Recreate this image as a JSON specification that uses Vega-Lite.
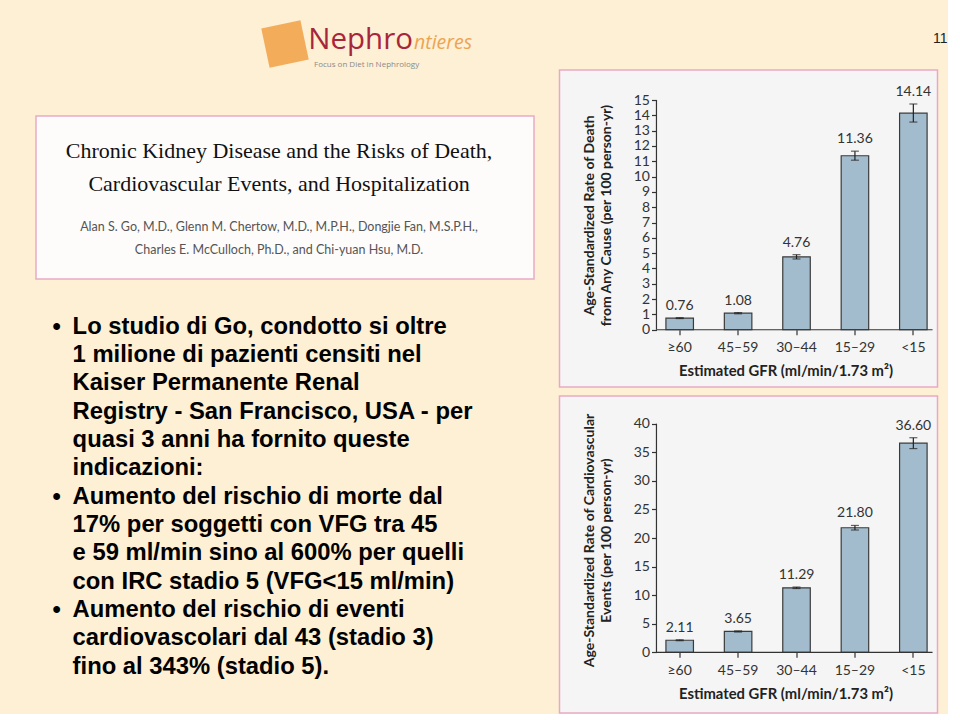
{
  "$schema": "https://vega.github.io/schema/vega-lite/v6.json",
  "background": "#fdf0d5",
  "padding": {"left": 35, "top": 0, "right": 0, "bottom": 0},
  "config": {"view": {"stroke": null}, "axis": {"labelOverlap": false, "labelBound": false, "labelFlush": false}},
  "spacing": 23.5,
  "hconcat": [
    {
      "spacing": 27,
      "vconcat": [
        {
          "width": 498,
          "height": 88,
          "data": {"values": [
            {"part": "icon", "t": ""},
            {"part": "a", "t": "Nephro"},
            {"part": "b", "t": "ntieres"},
            {"part": "c", "t": "Focus on Diet in Nephrology"}
          ]},
          "layer": [
            {"transform": [{"filter": "datum.part === 'icon'"}],
             "mark": {"type": "point", "shape": "square", "size": 1600, "filled": true, "color": "#f2a44c", "opacity": 0.9, "angle": -12},
             "encoding": {}},
            {"transform": [{"filter": "datum.part === 'a'"}],
             "mark": {"type": "text", "align": "right", "baseline": "alphabetic", "dx": 128, "dy": 5, "font": "Open Sans", "fontSize": 29.5, "color": "#a8263b"},
             "encoding": {"text": {"field": "t"}}},
            {"transform": [{"filter": "datum.part === 'b'"}],
             "mark": {"type": "text", "align": "left", "baseline": "alphabetic", "dx": 129, "dy": 5, "font": "Open Sans", "fontSize": 19.5, "fontStyle": "italic", "color": "#eda452"},
             "encoding": {"text": {"field": "t"}}},
            {"transform": [{"filter": "datum.part === 'c'"}],
             "mark": {"type": "text", "align": "left", "baseline": "alphabetic", "dx": 29, "dy": 23, "font": "Open Sans", "fontSize": 8, "color": "#8a8a8a"},
             "encoding": {"text": {"field": "t"}}}
          ]
        },
        {
          "width": 498,
          "height": 163,
          "view": {"fill": "#fdfcfb", "stroke": "#e9a9c5", "strokeWidth": 1.5},
          "data": {"values": [
            {"kind": "title", "t": ["Chronic Kidney Disease and the Risks of Death,", "Cardiovascular Events, and Hospitalization"]},
            {"kind": "author", "t": ["Alan S. Go, M.D., Glenn M. Chertow, M.D., M.P.H., Dongjie Fan, M.S.P.H.,", "Charles E. McCulloch, Ph.D., and Chi-yuan Hsu, M.D."]}
          ]},
          "encoding": {
            "x": {"datum": "c", "type": "ordinal", "axis": null, "scale": {"type": "point", "domain": ["c"], "align": 0.488}},
            "y": {"field": "kind", "type": "ordinal", "axis": null, "scale": {"type": "point", "domain": ["title", "author"], "padding": 0.616, "align": 0.467}}
          },
          "layer": [
            {"transform": [{"filter": "datum.kind === 'title'"}],
             "mark": {"type": "text", "baseline": "alphabetic", "font": "Liberation Serif", "fontSize": 22, "lineHeight": 32.5, "color": "#111111"},
             "encoding": {"text": {"field": "t"}}},
            {"transform": [{"filter": "datum.kind === 'author'"}],
             "mark": {"type": "text", "baseline": "alphabetic", "font": "Lato", "fontSize": 12.5, "lineHeight": 23.3, "color": "#555555"},
             "encoding": {"text": {"field": "t"}}}
          ]
        },
        {
          "width": 498,
          "height": 397,
          "data": {"values": [
            {"line": 1, "b": true, "bul": "•", "t": "Lo studio di Go, condotto si oltre"},
            {"line": 2, "b": false, "bul": "", "t": "1 milione di pazienti censiti nel"},
            {"line": 3, "b": false, "bul": "", "t": "Kaiser Permanente Renal"},
            {"line": 4, "b": false, "bul": "", "t": "Registry - San Francisco, USA - per"},
            {"line": 5, "b": false, "bul": "", "t": "quasi 3 anni ha fornito queste"},
            {"line": 6, "b": false, "bul": "", "t": "indicazioni:"},
            {"line": 7, "b": true, "bul": "•", "t": "Aumento del rischio di morte dal"},
            {"line": 8, "b": false, "bul": "", "t": "17% per soggetti con VFG tra 45"},
            {"line": 9, "b": false, "bul": "", "t": "e 59 ml/min sino al 600% per quelli"},
            {"line": 10, "b": false, "bul": "", "t": "con IRC stadio 5 (VFG<15 ml/min)"},
            {"line": 11, "b": true, "bul": "•", "t": "Aumento del rischio di eventi"},
            {"line": 12, "b": false, "bul": "", "t": "cardiovascolari dal 43 (stadio 3)"},
            {"line": 13, "b": false, "bul": "", "t": "fino al 343% (stadio 5)."}
          ]},
          "encoding": {
            "y": {"field": "line", "type": "ordinal", "axis": null,
                  "scale": {"type": "point", "domain": [1,2,3,4,5,6,7,8,9,10,11,12,13], "padding": 1, "align": 0.468}}
          },
          "layer": [
            {"transform": [{"filter": "datum.b"}],
             "mark": {"type": "text", "align": "left", "baseline": "alphabetic", "font": "Liberation Sans", "fontSize": 23.8, "fontWeight": "bold", "color": "#000000"},
             "encoding": {
               "x": {"datum": "bullet", "type": "ordinal", "axis": null, "scale": {"type": "point", "domain": ["bullet"], "align": 0.0331}},
               "text": {"field": "bul"}
             }},
            {"mark": {"type": "text", "align": "left", "baseline": "alphabetic", "font": "Liberation Sans", "fontSize": 23.8, "fontWeight": "bold", "color": "#000000"},
             "encoding": {
               "x": {"datum": "text", "type": "ordinal", "axis": null, "scale": {"type": "point", "domain": ["text"], "align": 0.0735}},
               "text": {"field": "t"}
             }}
          ],
          "resolve": {"scale": {"x": "independent"}}
        }
      ]
    },
    {
      "spacing": 7,
      "vconcat": [
        {
          "width": 378,
          "height": 62,
          "data": {"values": [{"t": "11"}]},
          "mark": {"type": "text", "align": "right", "baseline": "alphabetic", "dx": 199, "dy": 12, "font": "Liberation Sans", "fontSize": 14, "color": "#222222"},
          "encoding": {"text": {"field": "t"}}
        },
        {
          "width": 378,
          "height": 317,
          "view": {"fill": "#f5f5f5", "stroke": "#e9a9c5", "strokeWidth": 1.5},
          "data": {"values": [
            {"gfr": "≥60", "rate": 0.76, "lo": 0.73, "hi": 0.79},
            {"gfr": "45–59", "rate": 1.08, "lo": 1.04, "hi": 1.12},
            {"gfr": "30–44", "rate": 4.76, "lo": 4.62, "hi": 4.90},
            {"gfr": "15–29", "rate": 11.36, "lo": 11.07, "hi": 11.66},
            {"gfr": "<15", "rate": 14.14, "lo": 13.56, "hi": 14.74}
          ]},
          "encoding": {
            "x": {"field": "gfr", "type": "nominal",
                  "scale": {"domain": ["≥60", "45–59", "30–44", "15–29", "<15"], "paddingInner": 0.529, "paddingOuter": 1, "align": 0.911},
                  "axis": {"orient": "bottom", "offset": -57.3, "domain": false, "tickSize": 5, "tickColor": "#333333", "tickWidth": 1.2,
                           "labelFont": "Lato", "labelFontSize": 14, "labelColor": "#333333", "labelPadding": 6, "labelAngle": 0,
                           "title": "Estimated GFR (ml/min/1.73 m²)", "titleFont": "Lato", "titleFontSize": 14.8, "titleFontWeight": "bold", "titleColor": "#222222",
                           "titleX": 226, "titleY": 42, "titleBaseline": "middle", "titleAlign": "center"}}
          },
          "layer": [
            {"mark": {"type": "bar", "fill": "#a3bccd", "stroke": "#3b3b3b", "strokeWidth": 1.2},
             "encoding": {"y": {"field": "rate", "type": "quantitative",
                                "scale": {"domain": [-3.74, 16.96], "nice": false, "zero": false},
                                "axis": {"orient": "left", "offset": -97, "domain": false, "grid": false, "values": [0,1,2,3,4,5,6,7,8,9,10,11,12,13,14,15],
                                         "labelOverlap": false, "tickSize": 5, "tickColor": "#333333", "tickWidth": 1.2,
                                         "labelFont": "Lato", "labelFontSize": 14, "labelColor": "#333333", "labelPadding": 2,
                                         "title": ["Age-Standardized Rate of Death", "from Any Cause (per 100 person-yr)"],
                                         "titleFont": "Lato", "titleFontSize": 14, "titleFontWeight": "bold", "titleColor": "#222222",
                                         "titleX": -67, "titleY": 145, "titleBaseline": "middle", "titleLineHeight": 16.5}}}},
            {"mark": {"type": "rule", "color": "#222222", "strokeWidth": 1.2},
             "encoding": {"y": {"field": "lo", "type": "quantitative", "axis": {"values": [0,1,2,3,4,5,6,7,8,9,10,11,12,13,14,15], "labelOverlap": false}}, "y2": {"field": "hi"}}},
            {"mark": {"type": "tick", "color": "#222222", "thickness": 1.2, "size": 8},
             "encoding": {"y": {"field": "lo", "type": "quantitative", "axis": {"values": [0,1,2,3,4,5,6,7,8,9,10,11,12,13,14,15], "labelOverlap": false}}}},
            {"mark": {"type": "tick", "color": "#222222", "thickness": 1.2, "size": 8},
             "encoding": {"y": {"field": "hi", "type": "quantitative", "axis": {"values": [0,1,2,3,4,5,6,7,8,9,10,11,12,13,14,15], "labelOverlap": false}}}},
            {"mark": {"type": "text", "baseline": "alphabetic", "dy": -8, "font": "Lato", "fontSize": 14, "color": "#333333"},
             "encoding": {"y": {"field": "hi", "type": "quantitative", "axis": {"values": [0,1,2,3,4,5,6,7,8,9,10,11,12,13,14,15], "labelOverlap": false}}, "text": {"field": "rate", "type": "quantitative", "format": ".2f"}}},
            {"data": {"values": [{"a": 1}]},
             "mark": {"type": "rule", "color": "#333333", "strokeWidth": 1.2},
             "encoding": {"x": {"datum": "≥60", "type": "nominal", "bandPosition": -0.344}, "y": {"datum": 0, "type": "quantitative", "axis": {"values": [0,1,2,3,4,5,6,7,8,9,10,11,12,13,14,15], "labelOverlap": false}}, "y2": {"datum": 15}}},
            {"data": {"values": [{"a": 1}]},
             "mark": {"type": "rule", "color": "#333333", "strokeWidth": 1.2},
             "encoding": {"x": {"datum": "≥60", "type": "nominal", "bandPosition": -0.344}, "x2": {"datum": "<15", "bandPosition": 1.198}, "y": {"datum": 0, "type": "quantitative", "axis": {"values": [0,1,2,3,4,5,6,7,8,9,10,11,12,13,14,15], "labelOverlap": false}}}}
          ]
        },
        {
          "width": 378,
          "height": 317,
          "view": {"fill": "#f5f5f5", "stroke": "#e9a9c5", "strokeWidth": 1.5},
          "data": {"values": [
            {"gfr": "≥60", "rate": 2.11, "lo": 2.03, "hi": 2.19},
            {"gfr": "45–59", "rate": 3.65, "lo": 3.55, "hi": 3.75},
            {"gfr": "30–44", "rate": 11.29, "lo": 11.16, "hi": 11.42},
            {"gfr": "15–29", "rate": 21.80, "lo": 21.4, "hi": 22.2},
            {"gfr": "<15", "rate": 36.60, "lo": 35.65, "hi": 37.55}
          ]},
          "encoding": {
            "x": {"field": "gfr", "type": "nominal",
                  "scale": {"domain": ["≥60", "45–59", "30–44", "15–29", "<15"], "paddingInner": 0.529, "paddingOuter": 1, "align": 0.911},
                  "axis": {"orient": "bottom", "offset": -60.7, "domain": false, "tickSize": 5, "tickColor": "#333333", "tickWidth": 1.2,
                           "labelFont": "Lato", "labelFontSize": 14, "labelColor": "#333333", "labelPadding": 6, "labelAngle": 0,
                           "title": "Estimated GFR (ml/min/1.73 m²)", "titleFont": "Lato", "titleFontSize": 14.8, "titleFontWeight": "bold", "titleColor": "#222222",
                           "titleX": 226, "titleY": 42.4, "titleBaseline": "middle", "titleAlign": "center"}}
          },
          "layer": [
            {"mark": {"type": "bar", "fill": "#a3bccd", "stroke": "#3b3b3b", "strokeWidth": 1.2},
             "encoding": {"y": {"field": "rate", "type": "quantitative",
                                "scale": {"domain": [-10.62, 44.85], "nice": false, "zero": false},
                                "axis": {"orient": "left", "offset": -97, "domain": false, "grid": false, "values": [0,5,10,15,20,25,30,35,40],
                                         "labelOverlap": false, "tickSize": 5, "tickColor": "#333333", "tickWidth": 1.2,
                                         "labelFont": "Lato", "labelFontSize": 14, "labelColor": "#333333", "labelPadding": 2,
                                         "title": ["Age-Standardized Rate of Cardiovascular", "Events (per 100 person-yr)"],
                                         "titleFont": "Lato", "titleFontSize": 14, "titleFontWeight": "bold", "titleColor": "#222222",
                                         "titleX": -67, "titleY": 144, "titleBaseline": "middle", "titleLineHeight": 16.5}}}},
            {"mark": {"type": "rule", "color": "#222222", "strokeWidth": 1.2},
             "encoding": {"y": {"field": "lo", "type": "quantitative", "axis": {"values": [0,5,10,15,20,25,30,35,40], "labelOverlap": false}}, "y2": {"field": "hi"}}},
            {"mark": {"type": "tick", "color": "#222222", "thickness": 1.2, "size": 8},
             "encoding": {"y": {"field": "lo", "type": "quantitative", "axis": {"values": [0,5,10,15,20,25,30,35,40], "labelOverlap": false}}}},
            {"mark": {"type": "tick", "color": "#222222", "thickness": 1.2, "size": 8},
             "encoding": {"y": {"field": "hi", "type": "quantitative", "axis": {"values": [0,5,10,15,20,25,30,35,40], "labelOverlap": false}}}},
            {"mark": {"type": "text", "baseline": "alphabetic", "dy": -8, "font": "Lato", "fontSize": 14, "color": "#333333"},
             "encoding": {"y": {"field": "hi", "type": "quantitative", "axis": {"values": [0,5,10,15,20,25,30,35,40], "labelOverlap": false}}, "text": {"field": "rate", "type": "quantitative", "format": ".2f"}}},
            {"data": {"values": [{"a": 1}]},
             "mark": {"type": "rule", "color": "#333333", "strokeWidth": 1.2},
             "encoding": {"x": {"datum": "≥60", "type": "nominal", "bandPosition": -0.344}, "y": {"datum": 0, "type": "quantitative", "axis": {"values": [0,5,10,15,20,25,30,35,40], "labelOverlap": false}}, "y2": {"datum": 40}}},
            {"data": {"values": [{"a": 1}]},
             "mark": {"type": "rule", "color": "#333333", "strokeWidth": 1.2},
             "encoding": {"x": {"datum": "≥60", "type": "nominal", "bandPosition": -0.344}, "x2": {"datum": "<15", "bandPosition": 1.198}, "y": {"datum": 0, "type": "quantitative", "axis": {"values": [0,5,10,15,20,25,30,35,40], "labelOverlap": false}}}}
          ]
        }
      ]
    }
  ]
}
